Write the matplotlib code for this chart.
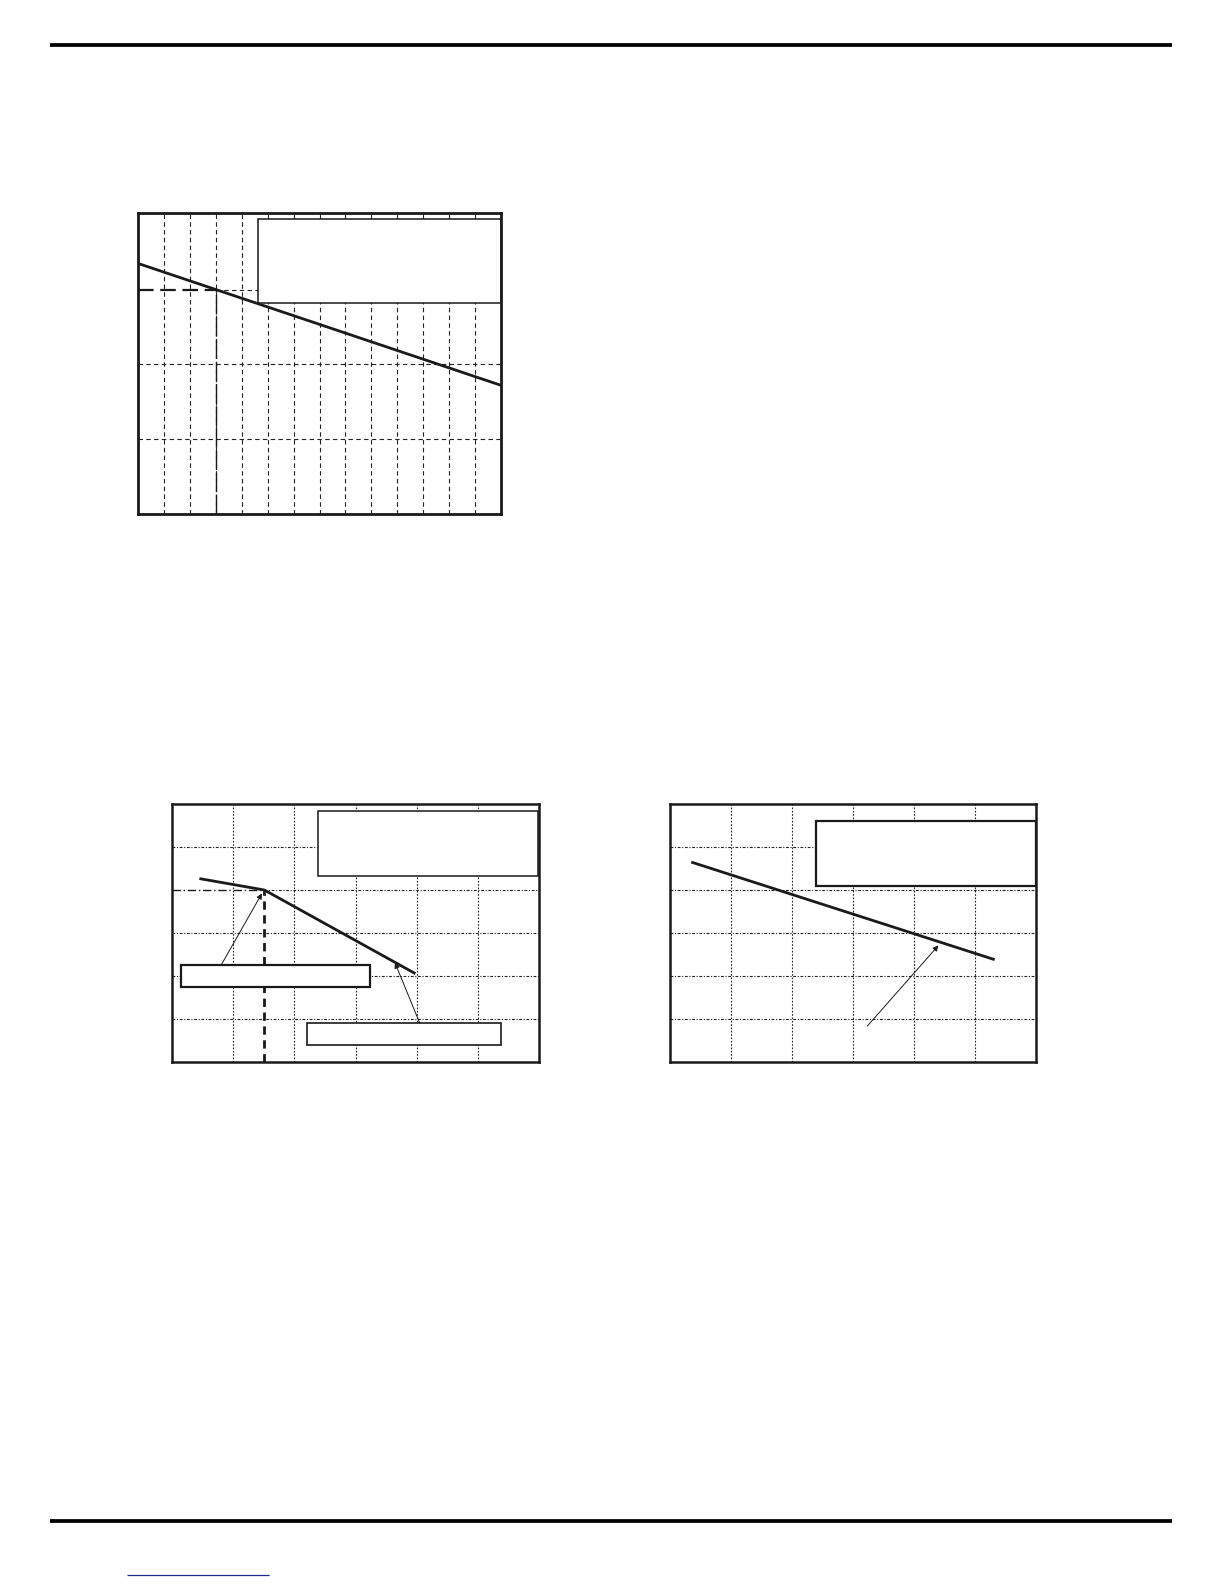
import numpy as np
import matplotlib
matplotlib.use('Agg')
import matplotlib.pyplot as plt
from matplotlib.patches import Rectangle

W, H = 1224, 1584

# page rules (pixel coords, y from top)
rule_x = [50, 1172]
rule_top_y = 45
rule_bot_y = 1521
link_x = [127, 269]
link_y = 1575

# ---- chart 1 : 14 x 4 grid, one straight line
c1_xlim = [0, 14]
c1_ylim = [0, 4]
c1_line_x = [0, 14]
c1_line_y = [3.33, 1.71]
c1_mark_x = 3.0
c1_mark_y = 2.98
c1_box = [4.61, 2.81, 14.0, 3.925]   # x0, y0, x1, y1

# ---- chart 2 : 6 x 6 grid, line with a knee
c2_xlim = [0, 6]
c2_ylim = [0, 6]
c2_line_x = [0.47, 1.51, 3.96]
c2_line_y = [4.26, 4.00, 2.07]
c2_box = [2.39, 4.33, 5.98, 5.83]
c2_call1 = [0.15, 1.74, 3.23, 2.245]
c2_call2 = [2.21, 0.40, 5.38, 0.905]
c2_arrow1 = [(0.80, 2.245), (1.47, 3.92)]
c2_arrow2 = [(4.05, 0.905), (3.645, 2.31)]

# ---- chart 3 : 6 x 6 grid, one straight line
c3_xlim = [0, 6]
c3_ylim = [0, 6]
c3_line_x = [0.37, 5.30]
c3_line_y = [4.64, 2.39]
c3_box = [2.39, 4.09, 6.0, 5.60]
c3_arrow = [(3.235, 0.836), (4.40, 2.71)]


def px_axes(fig, x0, y0, x1, y1):
    # pixel box (y from top) -> figure axes
    return fig.add_axes([x0 / W, 1 - y1 / H, (x1 - x0) / W, (y1 - y0) / H])


def setup(ax, xlim, ylim, lw):
    ax.set_xlim(xlim)
    ax.set_ylim(ylim)
    ax.set_xticks([])
    ax.set_yticks([])
    for s in ax.spines.values():
        s.set_linewidth(lw)
        s.set_color('#1a1a1a')
        s.set_zorder(6)


def box(ax, b, lw):
    r = Rectangle((b[0], b[1]), b[2] - b[0], b[3] - b[1], facecolor='white',
                  edgecolor='#1a1a1a', linewidth=lw, zorder=4)
    ax.add_patch(r)


def arrow(ax, a):
    ax.annotate('', xy=a[1], xytext=a[0],
                arrowprops=dict(arrowstyle='-|>', lw=0.7, color='#1a1a1a',
                                mutation_scale=8, shrinkA=0, shrinkB=0),
                zorder=5)


fig = plt.figure(figsize=(W / 100, H / 100), dpi=100)

# background page
bg = fig.add_axes([0, 0, 1, 1])
bg.set_xlim(0, W)
bg.set_ylim(H, 0)
bg.axis('off')
bg.plot(rule_x, [rule_top_y] * 2, color='black', lw=2.7, solid_capstyle='butt')
bg.plot(rule_x, [rule_bot_y] * 2, color='black', lw=2.7, solid_capstyle='butt')
bg.plot(link_x, [link_y] * 2, color='#1c2a8c', lw=0.9, solid_capstyle='butt')

# chart 1
ax1 = px_axes(fig, 138, 213, 501, 514)
setup(ax1, c1_xlim, c1_ylim, 2.0)
for gx in np.arange(1, 14):
    ax1.axvline(gx, color='#222222', lw=0.8, dashes=(4, 3), zorder=1)
for gy in [1, 2]:
    ax1.axhline(gy, color='#222222', lw=0.8, dashes=(4, 3), zorder=1)
ax1.plot([c1_mark_x, c1_xlim[1]], [c1_mark_y] * 2, color='#222222', lw=0.8,
         dashes=(4, 3), zorder=1)
ax1.plot([0, c1_mark_x], [c1_mark_y] * 2, color='#1a1a1a', lw=1.6,
         dashes=(7, 3), zorder=2)
ax1.plot([c1_mark_x] * 2, [0, c1_mark_y], color='#1a1a1a', lw=1.0,
         dashes=(14, 2), zorder=2)
box(ax1, c1_box, 1.1)
ax1.plot(c1_line_x, c1_line_y, color='#1a1a1a', lw=2.0, zorder=5)

# chart 2
ax2 = px_axes(fig, 172, 804, 539, 1062)
setup(ax2, c2_xlim, c2_ylim, 1.8)
for gx in np.arange(1, 6):
    ax2.axvline(gx, color='#222222', lw=0.8, dashes=(1.5, 1.5), zorder=1)
for gy in np.arange(1, 6):
    if gy == 4:
        continue
    ax2.axhline(gy, color='#222222', lw=0.8, dashes=(2.5, 1.5, 1, 1.5), zorder=1)
ax2.plot([c2_line_x[1], 6], [c2_line_y[1]] * 2, color='#222222', lw=0.8,
         dashes=(2.5, 1.5, 1, 1.5), zorder=1)
ax2.plot([0, c2_line_x[1]], [c2_line_y[1]] * 2, color='#1a1a1a', lw=1.0,
         dashes=(6, 2, 1, 2), zorder=2)
ax2.plot([c2_line_x[1]] * 2, [0, c2_line_y[1]], color='#1a1a1a', lw=2.0,
         dashes=(3, 2), zorder=2)
box(ax2, c2_box, 1.1)
box(ax2, c2_call1, 1.6)
box(ax2, c2_call2, 1.2)
ax2.plot(c2_line_x, c2_line_y, color='#1a1a1a', lw=2.0, zorder=5)
arrow(ax2, c2_arrow1)
arrow(ax2, c2_arrow2)

# chart 3
ax3 = px_axes(fig, 670, 804, 1036, 1062)
setup(ax3, c3_xlim, c3_ylim, 1.8)
for gx in np.arange(1, 6):
    ax3.axvline(gx, color='#222222', lw=0.8, dashes=(1.5, 1.5), zorder=1)
for gy in np.arange(1, 6):
    ax3.axhline(gy, color='#222222', lw=0.8, dashes=(2.5, 1.5, 1, 1.5), zorder=1)
box(ax3, c3_box, 1.6)
ax3.plot(c3_line_x, c3_line_y, color='#1a1a1a', lw=2.0, zorder=5)
arrow(ax3, c3_arrow)

plt.savefig('out.png', dpi=100)
